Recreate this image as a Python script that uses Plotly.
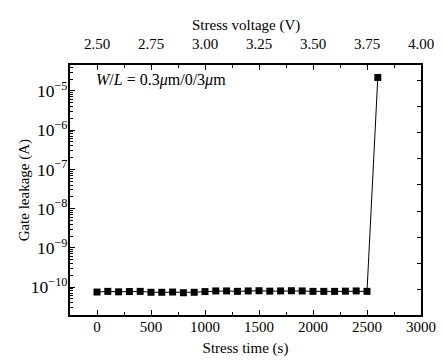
import plotly.graph_objects as go

stress_time = [0, 100, 200, 300, 400, 500, 600, 700, 800, 900, 1000, 1100, 1200,
               1300, 1400, 1500, 1600, 1700, 1800, 1900, 2000, 2100, 2200, 2300,
               2400, 2500, 2600]
gate_leakage = [7.5e-11, 7.8e-11, 7.6e-11, 7.7e-11, 7.8e-11, 7.4e-11, 7.4e-11,
                7.5e-11, 7.2e-11, 7.4e-11, 7.7e-11, 8.0e-11, 8.0e-11, 7.8e-11,
                8.0e-11, 8.1e-11, 7.9e-11, 8.0e-11, 8.1e-11, 8.0e-11, 7.8e-11,
                7.8e-11, 7.8e-11, 7.9e-11, 8.0e-11, 7.8e-11, 2.2e-5]
voltage_ticks = [2.50, 2.75, 3.00, 3.25, 3.50, 3.75, 4.00]

FONT = "Liberation Serif"

fig = go.Figure()
fig.add_trace(go.Scatter(
    x=stress_time, y=gate_leakage, mode="lines+markers",
    line=dict(color="black", width=1),
    marker=dict(symbol="square", size=7, color="black"),
    showlegend=False,
))
# invisible traces to anchor secondary axes
fig.add_trace(go.Scatter(x=[voltage_ticks[0]], y=[gate_leakage[0]], xaxis="x2", yaxis="y",
                         mode="markers", marker=dict(opacity=0), showlegend=False, hoverinfo="skip"))
fig.add_trace(go.Scatter(x=[stress_time[0]], y=[1], xaxis="x", yaxis="y2",
                         mode="markers", marker=dict(opacity=0), showlegend=False, hoverinfo="skip"))

axis_common = dict(showline=True, linecolor="black", linewidth=1.5, showgrid=False,
                   zeroline=False, ticks="inside", tickcolor="black", automargin=False,
                   tickfont=dict(family=FONT, size=15, color="black"))

fig.update_layout(
    width=437, height=356,
    margin=dict(l=62, r=24, t=57, b=49),
    paper_bgcolor="white", plot_bgcolor="white",
    font=dict(family=FONT, size=15, color="black"),
    xaxis=dict(range=[-250, 3000], dtick=500, tick0=0, ticklen=5, ticklabelstandoff=-3,
               minor=dict(ticks="inside", dtick=250, ticklen=3, tickcolor="black"),
               title=dict(text="Stress time (s)", font=dict(family=FONT, size=15), standoff=9),
               **axis_common),
    xaxis2=dict(range=[2.375, 4.0], overlaying="x", side="top", anchor="y",
                tickvals=voltage_ticks, tickformat=".2f", ticklen=5, ticklabelstandoff=8,
                minor=dict(ticks="inside", dtick=0.125, tick0=2.5, ticklen=3, tickcolor="black"),
                **axis_common),
    yaxis=dict(type="log", range=[-10.71, -4.34], dtick=1, exponentformat="power",
               ticklen=5, ticklabelstandoff=-2,
               minor=dict(ticks="inside", ticklen=3, tickcolor="black"),
               **{**axis_common, "tickfont": dict(family=FONT, size=14, color="black")}),
    yaxis2=dict(range=[0, 9.615], overlaying="y", side="right", anchor="x",
                dtick=1, tick0=0, showticklabels=False, ticklen=4,
                **axis_common),
    annotations=[
        dict(x=0.068, y=0.94, xref="paper", yref="paper", xanchor="left", yanchor="middle",
             text="<i>W</i>/<i>L</i> = 0.3<i>μ</i>m/0/3<i>μ</i>m", showarrow=False,
             font=dict(family=FONT, size=16, color="black")),
        dict(x=0.501, y=1.158, xref="paper", yref="paper", xanchor="center", yanchor="middle",
             text="Stress voltage (V)", showarrow=False,
             font=dict(family=FONT, size=15, color="black")),
        dict(x=-0.13, y=0.5, xref="paper", yref="paper", xanchor="center", yanchor="middle",
             text="Gate leakage (A)", textangle=-90, showarrow=False,
             font=dict(family=FONT, size=15, color="black")),
    ],
)

fig.write_html("out.html")
